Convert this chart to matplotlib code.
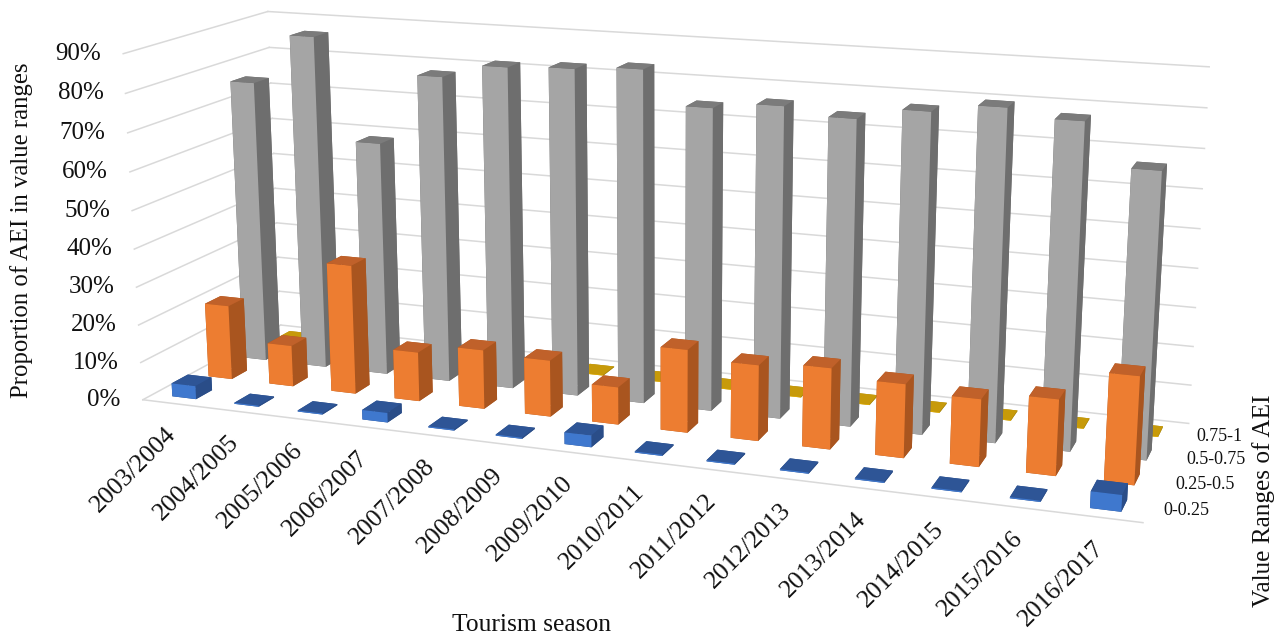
import numpy as np
import matplotlib
matplotlib.use('Agg')
import matplotlib.pyplot as plt
from mpl_toolkits.mplot3d import proj3d

seasons = ['2003/2004', '2004/2005', '2005/2006', '2006/2007', '2007/2008', '2008/2009', '2009/2010',
           '2010/2011', '2011/2012', '2012/2013', '2013/2014', '2014/2015', '2015/2016', '2016/2017']
ranges = ['0-0.25', '0.25-0.5', '0.5-0.75', '0.75-1']
low = [3.5, 0.3, 0.3, 2.5, 0.3, 0.3, 3, 0.3, 0.3, 0.3, 0.3, 0.3, 0.3, 4]
mid_low = [20, 11, 34.3, 13, 15.5, 14.7, 9.7, 21.3, 19.3, 20.5, 18.5, 16.8, 18.8, 26.4]
mid_high = [76.2, 89.5, 62.5, 81.2, 84.8, 85.5, 86.5, 78, 79.7, 77.8, 80.8, 83, 81, 70.6]
high = [0.2] * 14
values = [low, mid_low, mid_high, high]

# front, top and side face colour of each series
face_colors = [('#3F78CE', '#2E5596', '#2A4D88'), ('#ED7D31', '#C0612A', '#A9551F'),
               ('#A5A5A5', '#7B7B7B', '#6E6E6E'), ('#E8B000', '#C79A0A', '#A8860A')]

plt.rcParams['font.family'] = ['Liberation Serif', 'DejaVu Serif']
fig = plt.figure(figsize=(12.88, 6.39), dpi=100)
ax = fig.add_axes([0.0739, -0.2541, 0.8501, 1.7136], projection='3d', computed_zorder=False)
ax.set_xlim(0, 14, view_margin=0)
ax.set_ylim(0, 4, view_margin=0)
ax.set_zlim(0, 90, view_margin=0)
ax.set_axis_off()
ax.view_init(elev=14.248, azim=-69.908, roll=0.036)
ax.set_proj_type('persp', focal_length=0.4002)
ax.set_box_aspect((2.8359, 0.8072, 1.0))

bar_width = 0.385
bar_depth = 0.44

# Rows back to front and columns left to right, so nearer bars paint over farther ones.
for row in [3, 2, 1, 0]:
    front, top, side = face_colors[row]
    for col, height in enumerate(values[row]):
        # bar3d face order: bottom, top, front, back, left, right
        colors = [side, top, front, side, side, side]
        ax.bar3d(col + 0.5 - bar_width / 2, row + 0.5 - bar_depth / 2, 0,
                 bar_width, bar_depth, height, color=colors, shade=False,
                 zorder=10 + (3 - row) * 20 + col)


def label(x, y, z, text, dx=0, dy=0, **kw):
    """Place a text at a 3D point, offset on screen by (dx, dy) pixels."""
    u, v, _ = proj3d.proj_transform(x, y, z, ax.get_proj())
    ax.annotate(text, xy=(u, v), xycoords='data', xytext=(dx * 0.72, -dy * 0.72),
                textcoords='offset points', color='#111111', annotation_clip=False, **kw)


grid = '#D9D9D9'
for level in range(0, 100, 10):
    ax.plot([0, 14], [4, 4], [level, level], color=grid, lw=1.1, zorder=1, clip_on=False)
    ax.plot([0, 0], [0, 4], [level, level], color=grid, lw=1.1, zorder=1, clip_on=False)
    label(0, 0, level, f'{level}%', dx=-22, ha='right', va='center', fontsize=18)
ax.plot([0, 14], [0, 0], [0, 0], color=grid, lw=1.1, zorder=1, clip_on=False)

for col, season in enumerate(seasons):
    label(col + 0.5, 0, 0, season, dx=7, dy=20, rotation=45, ha='right', va='top', fontsize=18.5)
for row, name in enumerate(ranges):
    label(14.2, row + 0.5, 0, name, dx=-2, ha='left', va='center', fontsize=13)

fig.text(532 / 1288, 1 - 625 / 639, 'Tourism season', ha='center', va='center',
         fontsize=18.4, color='#111111')
fig.text(22 / 1288, 1 - 230 / 639, 'Proportion of AEI in value ranges', rotation=90,
         ha='center', va='center', fontsize=17.8, color='#111111')
fig.text(1264 / 1288, 1 - 501 / 639, 'Value Ranges of AEI', rotation=90,
         ha='center', va='center', fontsize=18.2, color='#111111')

fig.savefig('out.png', dpi=100)
